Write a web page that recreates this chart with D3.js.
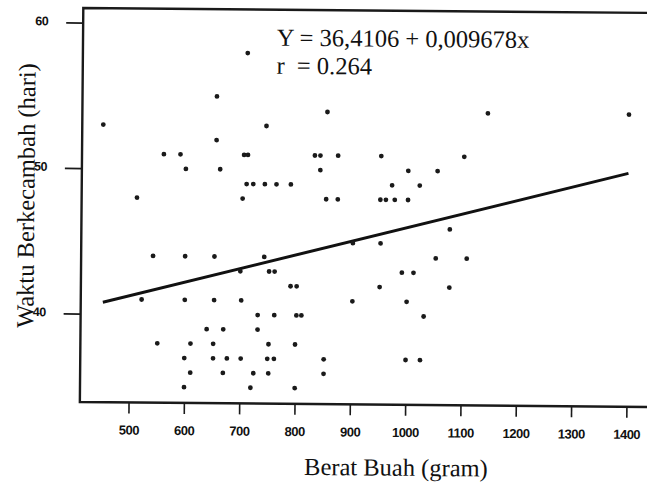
<!DOCTYPE html>
<html>
<head>
<meta charset="utf-8">
<script src="https://cdn.jsdelivr.net/npm/d3@7"></script>
<style>
  body { margin: 0; background: #fff; }
  svg { display: block; }
</style>
</head>
<body>
<svg id="chart"></svg>
<script>
// berat buah (gram) vs waktu berkecambah (hari)
const beratBuah = [450, 512, 522, 542, 551, 560, 590, 600, 600, 600, 600, 600, 611, 611, 640,
  653, 653, 652, 652, 655, 655, 662, 670, 670, 677, 700, 702, 702, 703, 705, 712, 710, 710,
  720, 722, 725, 732, 732, 743, 743, 745, 750, 752, 752, 752, 762, 762, 762, 764, 790, 791,
  800, 800, 802, 802, 811, 833, 843, 843, 852, 852, 854, 855, 875, 875, 903, 903, 952, 952,
  953, 953, 962, 973, 978, 992, 1000, 1001, 1002, 1002, 1013, 1023, 1026, 1032, 1053, 1055,
  1078, 1078, 1103, 1109, 1145, 1400];
const waktu = [53, 48, 41, 44, 38, 51, 51, 50, 44, 41, 37, 35, 38, 36, 39,
  44, 41, 38, 37, 55, 52, 50, 39, 36, 37, 43, 41, 37, 48, 51, 51, 58, 49,
  35, 49, 36, 40, 39, 49, 44, 53, 37, 43, 38, 36, 43, 40, 37, 49, 49, 42,
  38, 35, 42, 40, 40, 51, 51, 50, 37, 36, 48, 54, 51, 48, 45, 41, 48, 42,
  51, 45, 48, 49, 48, 43, 37, 41, 50, 48, 43, 49, 37, 40, 44, 50,
  46, 42, 51, 44, 54, 54];

const xTicks = [500, 600, 700, 800, 900, 1000, 1100, 1200, 1300, 1400];
const yTicks = [40, 50, 60];

// regression from the chart: Y = 36,4106 + 0,009678x
const intercept = 36.4106;
const slope = 0.009678;
const lineRange = [452, 1400];
const eqnLines = ["Y = 36,4106 + 0,009678x", "r  = 0.264"];

const W = 647, H = 484;
const plotLeft = 83.3, plotTop = 8, plotBottom = 402;

const svg = d3.select("#chart").attr("width", W).attr("height", H);

// the scan is tilted a little, so tilt the whole drawing with it
const g = svg.append("g").attr("transform", `rotate(0.5, ${plotLeft}, ${plotTop})`);

const x = d3.scaleLinear().domain([412, 1440]).range([plotLeft, 652]);
const y = d3.scaleLinear().domain([33.92, 61]).range([plotBottom, plotTop]);

const serif = "'Liberation Serif', 'Times New Roman', serif";
const sans = "'Liberation Sans', Arial, sans-serif";

// frame (right side runs off the page)
g.append("path")
  .attr("d", `M${x.range()[1]},${plotTop}H${plotLeft}V${plotBottom}H${x.range()[1]}`)
  .attr("fill", "none")
  .attr("stroke", "#1a1a1a")
  .attr("stroke-width", 2.4);

// x axis ticks
let xAxis = g.append("g")
  .attr("transform", `translate(0,${plotBottom})`)
  .call(d3.axisBottom(x).tickValues(xTicks).tickSize(11).tickPadding(12).tickFormat(d3.format("d")));
xAxis.select(".domain").remove();
xAxis.selectAll(".tick line").attr("stroke", "#1a1a1a").attr("stroke-width", 1.6);
xAxis.selectAll(".tick text")
  .attr("fill", "#111")
  .style("font-family", sans)
  .style("font-size", "13px")
  .style("font-weight", "bold")
  .style("letter-spacing", "-0.5px");

// y axis ticks
let yAxis = g.append("g")
  .attr("transform", `translate(${plotLeft},0)`)
  .call(d3.axisLeft(y).tickValues(yTicks).tickSize(17).tickPadding(18));
yAxis.select(".domain").remove();
yAxis.selectAll(".tick line").attr("stroke", "#1a1a1a").attr("stroke-width", 1.8);
yAxis.selectAll(".tick text")
  .attr("fill", "#111")
  .attr("dy", "0.2em")
  .style("font-family", sans)
  .style("font-size", "12.5px")
  .style("font-weight", "bold")
  .style("letter-spacing", "-0.5px");

// regression line
g.append("line")
  .attr("x1", x(lineRange[0]))
  .attr("y1", y(intercept + slope * lineRange[0]))
  .attr("x2", x(lineRange[1]))
  .attr("y2", y(intercept + slope * lineRange[1]))
  .attr("stroke", "#111")
  .attr("stroke-width", 3);

// points
g.selectAll(".dot")
  .data(d3.range(beratBuah.length))
  .join("circle")
  .attr("class", "dot")
  .attr("cx", i => x(beratBuah[i]))
  .attr("cy", i => y(waktu[i]))
  .attr("r", 2.4)
  .attr("fill", "#1a1a1a");

// equation
g.selectAll(".eqn")
  .data(eqnLines)
  .join("text")
  .attr("class", "eqn")
  .attr("x", 277)
  .attr("y", (d, i) => 44 + i * 28)
  .style("white-space", "pre")
  .style("font-family", serif)
  .style("font-size", "24.5px")
  .attr("fill", "#111")
  .text(d => d);

// axis titles
g.append("text")
  .attr("x", 400)
  .attr("y", 473)
  .attr("text-anchor", "middle")
  .style("font-family", serif)
  .style("font-size", "24.5px")
  .attr("fill", "#111")
  .text("Berat Buah (gram)");

g.append("text")
  .attr("transform", "translate(36,196) rotate(-90)")
  .attr("text-anchor", "middle")
  .style("font-family", serif)
  .style("font-size", "24.5px")
  .attr("fill", "#111")
  .text("Waktu Berkecambah (hari)");
</script>
</body>
</html>
